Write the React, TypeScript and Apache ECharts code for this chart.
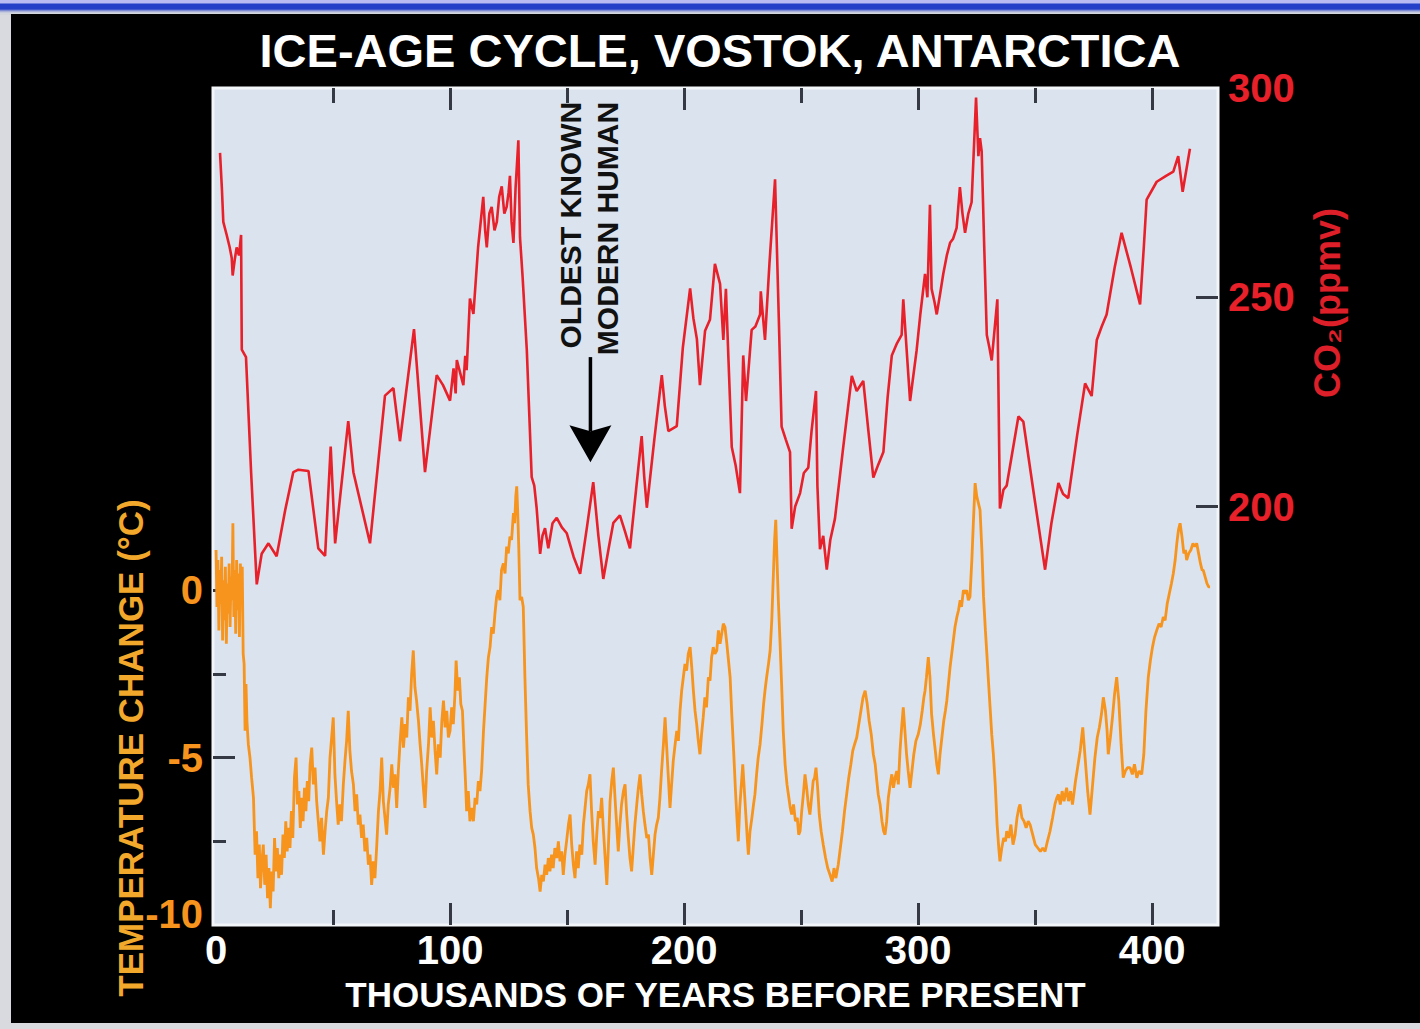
import React, { useEffect, useRef } from "react";
import * as echarts from "echarts";

// ---- Text ----
const chartTitle = "ICE-AGE CYCLE, VOSTOK, ANTARCTICA";
const xAxisTitle = "THOUSANDS OF YEARS BEFORE PRESENT";
const tempAxisTitle = "TEMPERATURE CHANGE (°C)";
const co2AxisTitle = "CO₂(ppmv)";
const annotationLine1 = "OLDEST KNOWN";
const annotationLine2 = "MODERN HUMAN";
const humanAgeKyr = 160;

// ---- Axis ticks / labels ----
const xLabels = [0, 100, 200, 300, 400];
const xMajorTicks = [100, 200, 300, 400];
const xMinorTicks = [50, 150, 250, 350];
const tempLabels = [-10, -5, 0];
const tempMajorTicks = [-5, 0];
const tempMinorTicks = [-7.5, -2.5];
const co2Labels = [200, 250, 300];
const co2Ticks = [200, 250];

// ---- Temperature change (°C) vs age (kyr BP) ----
const tempPoints: [number, number][] = [
  [0, 1.2], [0.4, -0.5], [0.8, 0.9], [1.2, -1.2], [1.6, 0.6], [2.0, -0.4], [2.4, 1.0], [2.8, -1.5],
  [3.2, 0.3], [3.6, -0.9], [4.0, 0.7], [4.4, -1.6], [4.8, 0.2], [5.2, -0.7], [5.6, 0.8], [6.0, -1.1],
  [6.4, 0.4], [6.8, -0.3], [7.2, 2.0], [7.6, -0.8], [8.0, 0.6], [8.4, -1.3], [8.8, 0.9], [9.2, -0.6],
  [9.6, 0.5], [10.0, -1.4], [10.4, 0.8], [10.8, -0.2], [11.2, 0.7], [11.6, -1.9], [12.0, -2.2], [12.4, -4.2],
  [12.8, -2.8], [13.2, -3.9], [13.8, -4.6], [14.5, -5.0], [15.2, -5.6], [16.0, -6.2], [16.7, -7.9], [17.3, -7.2],
  [17.9, -8.6], [18.5, -7.6], [19.0, -8.9], [19.6, -8.1], [20.2, -7.6], [20.8, -8.8], [21.4, -7.9], [22.0, -9.2],
  [22.6, -8.3], [23.2, -9.5], [23.8, -8.4], [24.4, -9.0], [25.0, -7.4], [25.6, -8.4], [26.2, -7.7], [26.8, -8.6],
  [27.4, -7.9], [28.0, -8.5], [28.6, -7.3], [29.2, -8.0], [29.8, -6.9], [30.4, -7.8], [31.0, -7.1], [31.6, -7.7],
  [32.2, -6.6], [32.8, -7.4], [33.5, -5.6], [34.2, -5.0], [34.8, -6.4], [35.4, -6.0], [36.0, -7.1], [36.6, -6.2],
  [37.2, -6.9], [37.8, -5.9], [38.4, -6.6], [39.0, -5.7], [39.6, -6.3], [40.2, -5.2], [40.9, -4.7], [41.6, -5.8],
  [42.3, -5.3], [43.0, -6.3], [43.7, -6.9], [44.4, -7.5], [45.1, -6.8], [45.9, -7.9], [46.6, -7.2], [47.3, -6.6],
  [48.0, -6.2], [48.7, -5.0], [49.4, -4.4], [50.1, -3.8], [50.8, -5.5], [51.5, -6.3], [52.2, -7.0], [52.9, -6.4],
  [53.6, -6.9], [54.4, -5.8], [55.1, -5.1], [55.8, -4.5], [56.5, -3.6], [57.2, -4.8], [57.9, -5.4], [58.7, -5.8],
  [59.4, -6.6], [60.1, -6.1], [60.8, -7.0], [61.5, -6.7], [62.2, -7.4], [62.9, -7.0], [63.6, -7.8], [64.4, -7.4],
  [65.1, -8.2], [65.8, -7.9], [66.5, -8.8], [67.2, -8.1], [67.9, -8.6], [68.7, -7.6], [69.4, -6.6], [70.1, -6.0],
  [70.8, -5.0], [71.5, -6.3], [72.2, -6.8], [72.9, -7.3], [73.6, -6.4], [74.4, -5.9], [75.1, -5.2], [75.8, -5.9],
  [76.5, -5.5], [77.2, -6.5], [77.9, -5.4], [78.6, -4.6], [79.4, -3.8], [80.1, -4.7], [80.8, -4.0], [81.5, -4.4],
  [82.2, -3.2], [82.9, -3.6], [83.6, -2.5], [84.3, -1.8], [85.0, -2.9], [85.7, -3.3], [86.5, -3.9], [87.2, -4.6],
  [87.9, -5.2], [88.6, -5.9], [89.3, -6.5], [90.0, -5.4], [90.8, -4.6], [91.5, -3.5], [92.2, -4.4], [92.9, -3.9],
  [93.6, -4.8], [94.3, -5.5], [95.0, -4.6], [95.8, -5.0], [96.5, -3.9], [97.2, -3.3], [97.9, -4.1], [98.6, -3.6],
  [99.3, -4.4], [100.0, -4.2], [100.7, -3.5], [101.4, -4.0], [102.1, -3.1], [102.6, -2.1], [103.3, -3.0], [104.0, -2.6],
  [104.6, -3.4], [105.3, -3.6], [106.0, -4.8], [106.6, -5.7], [107.1, -6.6], [107.8, -6.0], [108.5, -6.9], [109.3, -6.5],
  [110.0, -6.9], [110.7, -6.2], [111.4, -6.4], [112.1, -5.7], [112.8, -6.0], [113.5, -5.4], [114.3, -4.2], [115.0, -3.4],
  [115.7, -2.6], [116.4, -2.0], [117.1, -1.7], [117.8, -1.1], [118.5, -1.3], [119.2, -0.7], [119.9, -0.2], [120.6, 0.0],
  [121.3, -0.3], [122.0, 0.6], [122.8, 0.8], [123.5, 0.5], [124.2, 1.3], [124.9, 1.1], [125.6, 1.6], [126.3, 1.5],
  [127.1, 2.3], [127.6, 2.0], [128.1, 2.8], [128.5, 3.1], [128.9, 2.4], [129.4, 1.2], [129.9, -0.3], [130.6, -0.2],
  [131.3, -0.5], [132.0, -2.6], [132.7, -4.3], [133.4, -5.8], [134.2, -6.6], [134.9, -7.1], [135.6, -7.3], [136.3, -7.7],
  [137.0, -8.3], [137.8, -8.6], [138.5, -9.0], [139.2, -8.5], [139.9, -8.7], [140.6, -8.2], [141.3, -8.5], [142.0, -8.0],
  [142.7, -8.4], [143.4, -7.9], [144.1, -8.3], [144.8, -7.7], [145.6, -8.0], [146.3, -7.5], [147.0, -8.1], [147.7, -7.8],
  [148.4, -8.5], [149.1, -7.9], [149.8, -7.5], [150.6, -7.0], [151.3, -6.7], [152.0, -7.6], [152.7, -8.2], [153.4, -8.6],
  [154.1, -7.8], [154.8, -8.3], [155.5, -7.6], [156.3, -7.9], [157.0, -7.0], [157.7, -6.5], [158.4, -6.0], [159.1, -5.8],
  [159.8, -5.5], [160.5, -6.6], [161.2, -7.5], [162.0, -8.2], [162.7, -7.3], [163.4, -6.6], [164.1, -6.8], [164.8, -6.2],
  [165.5, -7.1], [166.2, -7.9], [167.0, -8.8], [167.7, -7.6], [168.4, -6.3], [169.1, -5.7], [169.8, -5.3], [170.5, -6.2],
  [171.2, -7.0], [171.9, -7.8], [172.6, -7.0], [173.3, -6.4], [174.1, -6.0], [174.8, -5.8], [175.5, -6.7], [176.2, -7.4],
  [176.9, -8.0], [177.6, -8.4], [178.3, -7.7], [179.0, -7.0], [179.8, -6.4], [180.5, -5.9], [181.2, -5.5], [181.9, -6.1],
  [182.6, -6.6], [183.3, -7.0], [184.1, -7.4], [184.8, -7.3], [185.5, -8.0], [186.2, -8.5], [186.9, -7.9], [187.6, -7.3],
  [188.3, -7.0], [189.0, -6.8], [189.7, -6.2], [190.4, -5.4], [191.2, -4.6], [191.9, -3.8], [192.6, -4.7], [193.3, -5.6],
  [194.0, -6.5], [194.7, -5.8], [195.4, -5.1], [196.2, -4.6], [196.9, -4.2], [197.6, -4.5], [198.3, -3.6], [199.0, -3.0],
  [199.7, -2.6], [200.4, -2.2], [201.1, -2.4], [201.8, -1.9], [202.6, -1.7], [203.3, -2.3], [204.0, -3.0], [204.7, -3.6],
  [205.4, -4.0], [206.1, -4.5], [206.8, -4.9], [207.5, -4.3], [208.2, -3.8], [208.9, -3.2], [209.6, -3.5], [210.4, -2.6],
  [211.1, -2.7], [211.8, -2.0], [212.5, -1.7], [213.2, -1.9], [214.0, -1.8], [214.7, -1.2], [215.4, -1.6], [216.1, -1.3],
  [216.8, -1.0], [217.5, -1.1], [218.3, -1.6], [219.0, -2.1], [219.7, -2.6], [220.4, -3.7], [221.2, -4.8], [222.0, -6.0],
  [222.6, -6.8], [223.2, -7.5], [223.8, -6.5], [224.5, -5.8], [225.1, -5.2], [225.8, -6.0], [226.5, -6.8], [227.1, -7.5],
  [227.5, -7.9], [228.2, -7.2], [229.0, -6.8], [229.7, -6.4], [230.3, -6.1], [231.0, -5.5], [231.7, -5.0], [232.5, -4.6],
  [233.3, -4.0], [234.0, -3.4], [234.6, -3.0], [235.3, -2.6], [236.1, -2.2], [236.8, -1.8], [237.5, -0.9], [238.2, 0.5],
  [238.7, 1.5], [239.2, 2.1], [239.7, 1.0], [240.3, -0.3], [241.0, -1.5], [241.7, -2.8], [242.4, -4.2], [243.2, -5.2],
  [244.0, -5.8], [244.8, -6.2], [245.4, -6.5], [246.0, -6.7], [246.8, -6.4], [247.6, -6.9], [248.4, -6.8], [249.0, -7.3],
  [249.6, -7.2], [250.3, -6.6], [251.0, -6.1], [251.7, -5.5], [252.4, -5.9], [253.1, -6.4], [253.8, -6.7], [254.5, -6.2],
  [255.2, -5.7], [255.8, -5.6], [256.4, -5.3], [257.1, -5.9], [257.8, -6.7], [258.6, -7.2], [259.5, -7.6], [260.5, -8.0],
  [261.4, -8.3], [262.4, -8.5], [263.3, -8.7], [264.1, -8.3], [264.9, -8.6], [265.9, -8.2], [266.8, -7.7], [267.7, -7.2],
  [268.6, -6.6], [269.5, -6.1], [270.4, -5.6], [271.3, -5.2], [272.1, -4.8], [272.9, -4.6], [273.8, -4.4], [274.7, -4.0],
  [275.6, -3.6], [276.5, -3.2], [277.4, -3.0], [278.3, -3.4], [279.1, -3.9], [280.0, -4.3], [280.9, -4.9], [281.7, -5.2],
  [282.4, -5.7], [283.0, -6.1], [283.8, -6.4], [284.6, -6.9], [285.3, -7.2], [285.9, -7.3], [286.6, -6.9], [287.3, -6.2],
  [288.1, -5.8], [288.8, -5.5], [289.5, -5.9], [290.2, -5.6], [290.9, -5.4], [291.6, -5.8], [292.3, -4.8], [293.0, -4.1],
  [293.7, -3.5], [294.4, -4.2], [295.1, -4.9], [295.8, -5.4], [296.6, -5.9], [297.4, -5.4], [298.2, -4.9], [299.1, -4.5],
  [300.1, -4.3], [301.0, -4.0], [301.8, -3.6], [302.5, -3.2], [303.0, -3.0], [303.6, -2.6], [304.4, -2.0], [305.1, -2.6],
  [305.8, -3.7], [306.6, -4.3], [307.4, -4.8], [308.0, -5.2], [308.7, -5.5], [309.4, -4.9], [310.2, -4.4], [311.0, -3.9],
  [311.7, -3.6], [312.3, -3.3], [313.0, -2.8], [313.7, -2.3], [314.4, -1.9], [315.1, -1.5], [315.8, -1.1], [316.6, -0.8],
  [317.3, -0.6], [318.0, -0.3], [318.6, -0.5], [319.4, 0.0], [320.1, -0.1], [320.8, 0.0], [321.5, -0.3], [322.2, -0.2],
  [323.0, 0.9], [323.7, 2.1], [324.4, 3.2], [325.1, 2.8], [325.8, 2.6], [326.5, 2.4], [327.3, 1.2], [328.0, -0.2],
  [328.8, -1.2], [329.5, -2.0], [330.0, -2.6], [330.8, -3.5], [331.5, -4.3], [332.2, -4.9], [333.0, -5.8], [333.8, -7.0],
  [334.5, -7.7], [335.0, -8.1], [335.8, -7.7], [336.6, -7.4], [337.4, -7.5], [337.9, -7.2], [338.8, -7.4], [339.7, -7.0],
  [340.6, -7.6], [341.5, -7.3], [342.3, -6.8], [343.1, -6.5], [343.6, -6.4], [344.4, -6.8], [345.3, -6.9], [346.2, -7.1],
  [347.1, -6.9], [347.9, -7.0], [349.0, -7.3], [350.1, -7.6], [351.2, -7.7], [352.3, -7.8], [353.3, -7.7], [354.3, -7.8],
  [355.3, -7.5], [356.4, -7.2], [357.5, -6.8], [358.5, -6.4], [359.3, -6.2], [360.0, -6.1], [360.8, -6.4], [361.6, -6.0],
  [362.4, -6.3], [363.5, -5.9], [364.3, -6.3], [365.2, -6.0], [366.0, -6.4], [366.4, -6.2], [367.3, -5.7], [368.2, -5.3],
  [369.3, -4.8], [370.4, -4.1], [371.4, -5.0], [372.5, -6.0], [373.5, -6.7], [374.5, -5.9], [375.6, -5.0], [376.6, -4.4],
  [377.5, -4.1], [378.4, -3.7], [379.2, -3.2], [380.1, -3.6], [380.8, -4.2], [381.3, -4.9], [382.2, -4.4], [383.1, -3.8],
  [384.0, -3.1], [384.9, -2.6], [385.8, -3.3], [386.8, -4.6], [387.7, -5.6], [388.6, -5.4], [389.5, -5.3], [390.6, -5.3],
  [391.6, -5.5], [392.5, -5.2], [393.5, -5.6], [394.5, -5.4], [395.6, -5.5], [396.5, -4.9], [397.4, -3.6], [398.4, -2.6],
  [399.3, -2.1], [400.2, -1.7], [401.1, -1.4], [402.0, -1.2], [403.0, -1.0], [403.9, -1.1], [404.8, -0.8], [405.6, -0.9],
  [406.5, -0.4], [407.4, -0.1], [408.3, 0.2], [409.1, 0.5], [409.9, 0.9], [410.6, 1.4], [411.3, 1.8], [412.0, 2.0],
  [412.8, 1.6], [413.6, 1.1], [414.3, 1.2], [414.8, 0.9], [415.7, 1.1], [416.6, 1.2], [417.5, 1.4], [418.3, 1.3],
  [419.1, 1.4], [419.9, 1.1], [420.7, 0.8], [421.4, 0.6], [421.9, 0.6], [422.7, 0.4], [423.5, 0.2], [424.2, 0.1],
  [424.8, 0.1],
];

// ---- CO2 (ppmv) vs age (kyr BP) ----
const co2Points: [number, number][] = [
  [1.7, 284.5], [2.5, 276], [3.1, 268], [4.5, 265], [5.8, 262], [6.7, 259.4], [7.1, 255.2], [8.0, 259],
  [8.8, 261.9], [9.8, 260], [10.7, 264.9], [11.0, 237.5], [12.8, 235.7], [15.0, 208], [17.4, 181.4], [19.5, 188.7],
  [22.4, 191.2], [25.9, 188.1], [29.5, 199], [33.0, 208.2], [35.2, 208.8], [39.5, 208.5], [43.7, 190], [46.6, 188.2],
  [49.0, 214.3], [50.9, 191.2], [56.5, 220.4], [58.7, 208.2], [65.8, 191.2], [72.2, 226.5], [75.8, 228.3], [78.6, 215.6],
  [84.6, 242.4], [89.3, 208.2], [94.3, 231.4], [97.0, 229], [100.0, 225.3], [101.5, 233], [102.4, 227], [102.9, 235],
  [104.3, 232], [105.7, 229], [106.5, 236], [107.1, 232.6], [108.5, 249.7], [110.0, 246], [112.0, 262], [114.2, 274],
  [115.0, 266], [115.7, 261.9], [116.8, 270], [117.8, 271.6], [119.0, 266], [120.0, 268], [121.0, 274], [122.1, 276.5],
  [123.2, 270], [124.2, 271.6], [125.0, 275], [125.6, 279], [126.3, 268], [127.1, 263], [128.0, 276], [129.2, 287.5],
  [129.9, 264.3], [131.0, 255], [132.8, 237.5], [134.9, 207], [136.0, 205], [137.0, 199.7], [138.5, 188.7], [139.5, 193],
  [140.6, 194.8], [142.0, 190], [143.8, 196], [145.6, 197.3], [147.8, 195], [149.9, 193.6], [152.8, 188], [155.6, 183.9],
  [158.5, 195], [161.2, 205.8], [163.4, 193], [165.5, 182.7], [167.8, 190], [169.8, 196.1], [172.6, 197.9], [174.8, 194],
  [176.9, 190], [179.5, 204], [181.9, 216.8], [183.0, 207], [184.1, 199.7], [187.3, 216], [190.5, 231.4], [191.8, 224],
  [193.3, 218], [196.9, 219.2], [199.5, 238], [202.6, 252.1], [204.0, 245], [205.5, 240], [206.8, 229], [209.0, 242],
  [211.1, 244.7], [213.2, 258], [215.4, 253.2], [216.8, 239.8], [217.9, 252], [219.0, 235], [220.4, 214.2], [222.0, 210],
  [223.9, 203.2], [225.3, 236.1], [226.5, 225.2], [228.9, 242.2], [230.5, 243], [232.5, 245.9], [232.8, 251.4], [234.6, 239.8],
  [236.5, 258], [238.9, 278.2], [240.5, 245], [241.7, 219.1], [243.5, 216], [245.3, 213], [246.0, 194.7], [247.5, 200],
  [249.6, 203.2], [251.2, 208], [253.1, 209.3], [254.5, 218], [256.4, 227.6], [257.0, 205], [258.1, 189.8], [259.5, 193],
  [261.0, 184.9], [262.5, 192], [264.5, 197.1], [268.0, 214], [271.7, 231.2], [273.8, 227.6], [276.6, 230], [278.8, 218],
  [280.9, 206.9], [283.0, 210], [285.2, 213], [287.0, 226], [288.8, 236.1], [291.0, 239], [293.0, 241], [293.7, 249.5],
  [296.6, 225.2], [299.4, 237.3], [301.0, 246], [303.0, 255.6], [304.0, 250], [305.1, 272.1], [305.8, 252], [307.0, 249],
  [308.0, 245.9], [309.5, 251], [310.8, 255.6], [312.3, 260], [313.7, 263], [315.0, 264], [316.5, 266.6], [317.9, 276.3],
  [319.0, 270], [320.1, 265.4], [321.5, 270], [322.9, 272.7], [324.8, 297.7], [325.8, 283.7], [326.5, 288], [327.2, 284.9],
  [328.3, 262], [329.4, 241], [330.5, 238], [331.5, 234.9], [333.9, 249.5], [335.0, 199.5], [336.5, 204], [337.9, 205],
  [342.9, 221.5], [345.0, 220.3], [349.5, 203], [354.3, 184.9], [357.0, 196], [360.0, 205.6], [362.0, 203], [364.2, 202],
  [368.0, 217], [371.4, 229.4], [374.2, 226.4], [376.4, 239.8], [378.5, 243], [380.6, 245.9], [384.0, 257], [387.0, 265.4],
  [391.0, 257], [394.9, 248.3], [396.5, 262], [397.7, 273.3], [402.0, 277.6], [406.0, 279], [409.1, 280], [411.2, 283.7],
  [413.1, 275.2], [416.2, 285.5],
];

// ---- Annotation anchors (data units on the CO2 axis) ----
const annotationTextTopPpm = 296.7;
const arrowStartPpm = 235.7;
const arrowTipPpm = 210.6;

const FONT = "'Liberation Sans', Arial, Helvetica, sans-serif";
const ORANGE = "#f7941d";
const RED = "#e8202a";
const TICK = "#343944";

export default function App() {
  const ref = useRef<HTMLDivElement>(null);

  useEffect(() => {
    if (!ref.current) return;
    const chart = echarts.init(ref.current, null, { renderer: "svg" });
    const xMin = -1.3;
    const xMax = 428.2;
    const hiddenLine = { show: false, onZero: false };
    const baseX = {
      type: "value",
      min: xMin,
      max: xMax,
      axisLine: hiddenLine,
      splitLine: { show: false },
    };
    const option: any = {
      animation: false,
      backgroundColor: "transparent",
      title: {
        text: chartTitle,
        left: 715,
        top: 22,
        textAlign: "center",
        textStyle: { color: "#ffffff", fontSize: 47, fontWeight: "bold", fontFamily: FONT },
      },
      grid: {
        left: 213,
        right: 202,
        top: 88,
        bottom: 104,
        show: true,
        backgroundColor: "#dae3ee",
        borderColor: "#f3f6f9",
        borderWidth: 3,
      },
      xAxis: [
        {
          ...baseX,
          position: "bottom",
          axisTick: { show: true, inside: true, length: 22, customValues: xMajorTicks, lineStyle: { color: TICK, width: 3 } },
          axisLabel: { customValues: xLabels, color: "#ffffff", fontSize: 40, fontWeight: "bold", fontFamily: FONT, margin: 5 },
          name: xAxisTitle,
          nameLocation: "middle",
          nameGap: 52,
          nameTextStyle: { color: "#ffffff", fontSize: 35, fontWeight: "bold", fontFamily: FONT },
        },
        {
          ...baseX,
          position: "bottom",
          axisTick: { show: true, inside: true, length: 15, customValues: xMinorTicks, lineStyle: { color: TICK, width: 3 } },
          axisLabel: { show: false },
        },
        {
          ...baseX,
          position: "top",
          axisTick: { show: true, inside: true, length: 22, customValues: xMajorTicks, lineStyle: { color: TICK, width: 3 } },
          axisLabel: { show: false },
        },
        {
          ...baseX,
          position: "top",
          axisTick: { show: true, inside: true, length: 15, customValues: xMinorTicks, lineStyle: { color: TICK, width: 3 } },
          axisLabel: { show: false },
        },
      ],
      yAxis: [
        {
          type: "value",
          position: "left",
          min: -10,
          max: 15,
          axisLine: hiddenLine,
          splitLine: { show: false },
          axisTick: { show: true, inside: true, length: 22, customValues: tempMajorTicks, lineStyle: { color: TICK, width: 3 } },
          axisLabel: {
            customValues: tempLabels,
            margin: 10,
            formatter: (v: number) => (v === -10 ? "{low|" + v + "}" : "{n|" + v + "}"),
            rich: {
              n: { color: ORANGE, fontSize: 40, fontWeight: "bold", fontFamily: FONT },
              low: { color: ORANGE, fontSize: 40, fontWeight: "bold", fontFamily: FONT, padding: [0, 0, 22, 0] },
            },
          },
        },
        {
          type: "value",
          position: "right",
          min: 100,
          max: 300,
          axisLine: hiddenLine,
          splitLine: { show: false },
          axisTick: { show: true, inside: true, length: 22, customValues: co2Ticks, lineStyle: { color: TICK, width: 3 } },
          axisLabel: { customValues: co2Labels, margin: 10, color: RED, fontSize: 40, fontWeight: "bold", fontFamily: FONT },
        },
        {
          type: "value",
          position: "left",
          min: -10,
          max: 15,
          axisLine: hiddenLine,
          splitLine: { show: false },
          axisTick: { show: true, inside: true, length: 13, customValues: tempMinorTicks, lineStyle: { color: TICK, width: 3 } },
          axisLabel: { show: false },
        },
      ],
      series: [
        {
          type: "line",
          name: "Temperature change",
          xAxisIndex: 0,
          yAxisIndex: 0,
          data: tempPoints,
          showSymbol: false,
          symbol: "none",
          lineStyle: { color: ORANGE, width: 2.8 },
          z: 3,
        },
        {
          type: "line",
          name: "CO2",
          xAxisIndex: 0,
          yAxisIndex: 1,
          data: co2Points,
          showSymbol: false,
          symbol: "none",
          lineStyle: { color: RED, width: 2.6 },
          z: 4,
        },
      ],
    };
    chart.setOption(option);

    const top = chart.convertToPixel({ seriesIndex: 1 }, [humanAgeKyr, annotationTextTopPpm]) as number[];
    const start = chart.convertToPixel({ seriesIndex: 1 }, [humanAgeKyr, arrowStartPpm]) as number[];
    const tip = chart.convertToPixel({ seriesIndex: 1 }, [humanAgeKyr, arrowTipPpm]) as number[];
    const ax = top[0];
    const headH = 37;
    const headW = 21;
    chart.setOption({
      graphic: [
        {
          type: "text",
          x: ax - 20,
          y: top[1],
          rotation: Math.PI / 2,
          z: 10,
          style: { text: annotationLine1, fill: "#111111", font: "bold 30px " + FONT, align: "right", verticalAlign: "middle" },
        },
        {
          type: "text",
          x: ax + 17,
          y: top[1],
          rotation: Math.PI / 2,
          z: 10,
          style: { text: annotationLine2, fill: "#111111", font: "bold 30px " + FONT, align: "right", verticalAlign: "middle" },
        },
        {
          type: "line",
          z: 10,
          shape: { x1: ax, y1: start[1], x2: ax, y2: tip[1] - headH + 6 },
          style: { stroke: "#000000", lineWidth: 3.5 },
        },
        {
          type: "polygon",
          z: 10,
          shape: {
            points: [
              [ax - headW, tip[1] - headH],
              [ax, tip[1] - headH + 6],
              [ax + headW, tip[1] - headH],
              [ax, tip[1]],
            ],
          },
          style: { fill: "#000000" },
        },
        {
          type: "text",
          x: 130,
          y: 748,
          rotation: Math.PI / 2,
          style: { text: tempAxisTitle, fill: "#f2a82a", font: "bold 35px " + FONT, align: "center", verticalAlign: "middle" },
        },
        {
          type: "text",
          x: 1327,
          y: 303,
          rotation: Math.PI / 2,
          style: { text: co2AxisTitle, fill: "#dc1f28", font: "bold 36px " + FONT, align: "center", verticalAlign: "middle" },
        },
      ],
    });

    return () => chart.dispose();
  }, []);

  return (
    <div style={{ position: "fixed", left: 0, top: 0, width: 1420, height: 1029, background: "#d9d9e0", overflow: "hidden" }}>
      <div
        style={{
          position: "absolute",
          left: 0,
          top: 0,
          width: 1420,
          height: 15,
          background: "linear-gradient(to bottom, #b8bcf2 0px, #b8bcf2 3px, #2440c8 4px, #2440c8 9px, #9aa4d8 11px, #d4d6de 13px)",
        }}
      />
      <div style={{ position: "absolute", left: 11, top: 14, width: 1409, height: 1009, background: "#000000" }} />
      <div ref={ref} style={{ position: "absolute", left: 0, top: 0, width: 1420, height: 1029 }} />
    </div>
  );
}
